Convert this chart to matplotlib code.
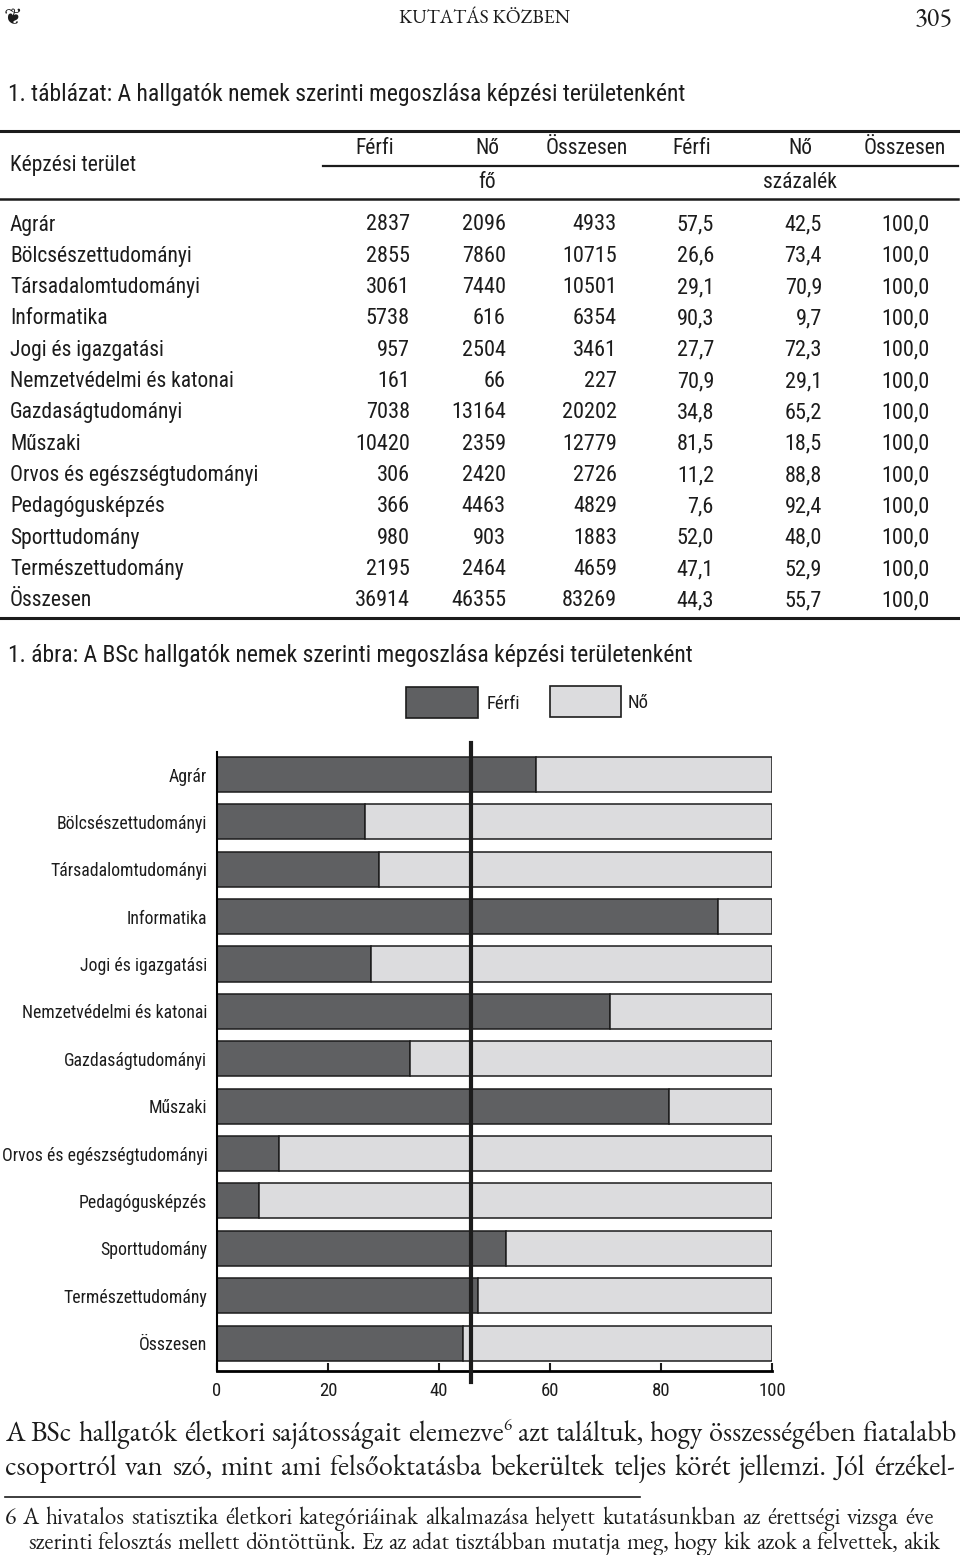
import matplotlib
matplotlib.use('Agg')
import matplotlib.pyplot as plt
from matplotlib.patches import Rectangle
from matplotlib.lines import Line2D
import numpy as np

# adatok
categories = ['Agrár', 'Bölcsészettudományi', 'Társadalomtudományi', 'Informatika',
              'Jogi és igazgatási', 'Nemzetvédelmi és katonai', 'Gazdaságtudományi',
              'Műszaki', 'Orvos és egészségtudományi', 'Pedagógusképzés',
              'Sporttudomány', 'Természettudomány', 'Összesen']
ferfi_fo = [2837, 2855, 3061, 5738, 957, 161, 7038, 10420, 306, 366, 980, 2195, 36914]
no_fo = [2096, 7860, 7440, 616, 2504, 66, 13164, 2359, 2420, 4463, 903, 2464, 46355]
osszes_fo = [4933, 10715, 10501, 6354, 3461, 227, 20202, 12779, 2726, 4829, 1883, 4659, 83269]
ferfi_pct = [57.5, 26.6, 29.1, 90.3, 27.7, 70.9, 34.8, 81.5, 11.2, 7.6, 52.0, 47.1, 44.3]
no_pct = [42.5, 73.4, 70.9, 9.7, 72.3, 29.1, 65.2, 18.5, 88.8, 92.4, 48.0, 52.9, 55.7]
osszes_pct = [100.0] * 13
ref_value = 45.8
x_ticks = [0, 20, 40, 60, 80, 100]

col_heads = ['Férfi', 'Nő', 'Összesen', 'Férfi', 'Nő', 'Összesen']

body_lines = [
    'A BSc hallgatók életkori sajátosságait elemezve^6 azt találtuk, hogy összességében fiatalabb',
    'csoportról van szó, mint ami felsőoktatásba bekerültek teljes körét jellemzi. Jól érzékel-',
]
foot_lines = [
    '6 A hivatalos statisztika életkori kategóriáinak alkalmazása helyett kutatásunkban az érettségi vizsga éve',
    'szerinti felosztás mellett döntöttünk. Ez az adat tisztábban mutatja meg, hogy kik azok a felvettek, akik',
]

W, H = 960, 1555
SANS = ['Roboto Condensed', 'Archivo Narrow', 'Liberation Sans']
SERIF = ['EB Garamond', 'Cormorant Garamond', 'Liberation Serif']
DARK = '#5f6062'
LIGHT = '#dcdcde'
INK = '#1c1c1c'

fig = plt.figure(figsize=(9.6, 15.55), dpi=100)


def fx(x):
    return x / W


def fy(y):
    return 1 - y / H


def hline(x0, x1, y, lw):
    fig.add_artist(Line2D([fx(x0), fx(x1)], [fy(y), fy(y)], transform=fig.transFigure,
                          color=INK, lw=lw))


def pct(v):
    return f'{v:.1f}'.replace('.', ',')


# fejléc
fig.text(fx(4), fy(18), '\u2766', family=['DejaVu Sans'], fontsize=16, va='center', color=INK)
fig.text(fx(485), fy(19), 'KUTATÁS KÖZBEN', family=SERIF, fontsize=14, ha='center', va='center', color=INK)
fig.text(fx(953), fy(20), '305', family=SERIF, fontsize=19, ha='right', va='center', color=INK)

# táblázat
TS = 15.5
fig.text(fx(8), fy(95), '1. táblázat: A hallgatók nemek szerinti megoszlása képzési területenként',
         family=SANS, fontsize=17, va='center', color=INK)
hline(0, 958, 131, 2.2)
hline(323, 958, 166, 1.6)
hline(0, 958, 199, 1.8)
hline(0, 958, 618, 2.2)

head_x = [375, 487, 587, 692, 800, 905]
for hx, h in zip(head_x, col_heads):
    fig.text(fx(hx), fy(148), h, family=SANS, fontsize=TS, ha='center', va='center', color=INK)
fig.text(fx(10), fy(165), 'Képzési terület', family=SANS, fontsize=TS, va='center', color=INK)
fig.text(fx(487), fy(183), 'fő', family=SANS, fontsize=TS, ha='center', va='center', color=INK)
fig.text(fx(800), fy(183), 'százalék', family=SANS, fontsize=TS, ha='center', va='center', color=INK)

col_right = [410, 506, 617, 714, 822, 930]
for i, cat in enumerate(categories):
    y = 225 + i * 31.33
    fig.text(fx(10), fy(y), cat, family=SANS, fontsize=TS, va='center', color=INK)
    vals = [str(ferfi_fo[i]), str(no_fo[i]), str(osszes_fo[i]),
            pct(ferfi_pct[i]), pct(no_pct[i]), pct(osszes_pct[i])]
    for cx, v in zip(col_right, vals):
        fig.text(fx(cx), fy(y), v, family=SANS, fontsize=16, ha='right', va='center', color=INK)

# ábra
fig.text(fx(8), fy(656), '1. ábra: A BSc hallgatók nemek szerinti megoszlása képzési területenként',
         family=SANS, fontsize=17, va='center', color=INK)

fig.add_artist(Rectangle((fx(406), fy(718)), 72 / W, 31 / H, transform=fig.transFigure,
                         facecolor=DARK, edgecolor=INK, lw=1.2))
fig.text(fx(487), fy(704), 'Férfi', family=SANS, fontsize=13.5, va='center', color=INK)
fig.add_artist(Rectangle((fx(550), fy(717)), 71 / W, 31 / H, transform=fig.transFigure,
                         facecolor=LIGHT, edgecolor=INK, lw=1.2))
fig.text(fx(628), fy(703), 'Nő', family=SANS, fontsize=13.5, va='center', color=INK)

ax = fig.add_axes([fx(217), fy(1371), (772 - 217) / W, (1371 - 752) / H])
ypos = np.arange(len(categories))
ax.barh(ypos, ferfi_pct, height=0.74, color=DARK, edgecolor=INK, lw=1.1)
ax.barh(ypos, no_pct, left=ferfi_pct, height=0.74, color=LIGHT, edgecolor=INK, lw=1.1)
ax.axvline(ref_value, ymin=-0.018, ymax=1.0145, clip_on=False, color=INK, lw=3, zorder=5)
ax.set_xlim(0, 100)
ax.set_ylim(12.59, -0.475)
ax.set_yticks(ypos)
ax.set_yticklabels(categories, family=SANS, fontsize=12.8, color=INK)
ax.set_xticks(x_ticks)
ax.set_xticklabels([str(t) for t in x_ticks], family=SANS, fontsize=13.5, color=INK)
ax.tick_params(axis='y', length=0, pad=7)
ax.tick_params(axis='x', direction='in', length=6, width=1.5, pad=8, colors=INK)
for s in ['top', 'right']:
    ax.spines[s].set_visible(False)
ax.spines['left'].set_linewidth(1.5)
ax.spines['bottom'].set_linewidth(2)

# szöveg sorkizárva
renderer = fig.canvas.get_renderer()


def word_parts(w, base_y, size):
    parts = []
    if '^' in w:
        base, sup = w.split('^')
        parts.append(fig.text(0, fy(base_y), base, family=SERIF, fontsize=size, va='baseline', color=INK))
        parts.append(fig.text(0, fy(base_y - size * 0.55), sup, family=SERIF, fontsize=size * 0.6,
                              va='baseline', color=INK))
    else:
        parts.append(fig.text(0, fy(base_y), w, family=SERIF, fontsize=size, va='baseline', color=INK))
    return parts


def fit_size(lines, spans):
    # betűméret, amelynél a szóközök kb. normál szélességűek
    sizes = []
    for line, (x0, x1) in zip(lines, spans):
        words = line.split(' ')
        w10 = 0
        for w in words:
            for p in word_parts(w, 0, 10):
                w10 += p.get_window_extent(renderer).width
                p.remove()
        gap10 = 0.24 * 10 * 100 / 72
        sizes.append(10 * (x1 - x0) / (w10 + gap10 * (len(words) - 1)))
    return min(sizes)


def draw_justified(line, x0, x1, base_y, size):
    groups = []
    for w in line.split(' '):
        parts = word_parts(w, base_y, size)
        widths = [p.get_window_extent(renderer).width for p in parts]
        groups.append((parts, widths))
    total = sum(sum(ws) for _, ws in groups)
    gap = (x1 - x0 - total) / (len(groups) - 1)
    x = x0
    for parts, ws in groups:
        for p, w in zip(parts, ws):
            p.set_x(fx(x))
            x += w
        x += gap


body_spans = [(5, 957), (5, 955)]
bs = fit_size(body_lines, body_spans)
draw_justified(body_lines[0], 5, 957, 1441, bs)
draw_justified(body_lines[1], 5, 955, 1475, bs)
hline(5, 640, 1497, 1.2)
foot_spans = [(5, 934), (28, 940)]
fs = fit_size(foot_lines, foot_spans)
draw_justified(foot_lines[0], 5, 934, 1524, fs)
draw_justified(foot_lines[1], 28, 940, 1549, fs)

fig.savefig('out.png', dpi=100, facecolor='white')
